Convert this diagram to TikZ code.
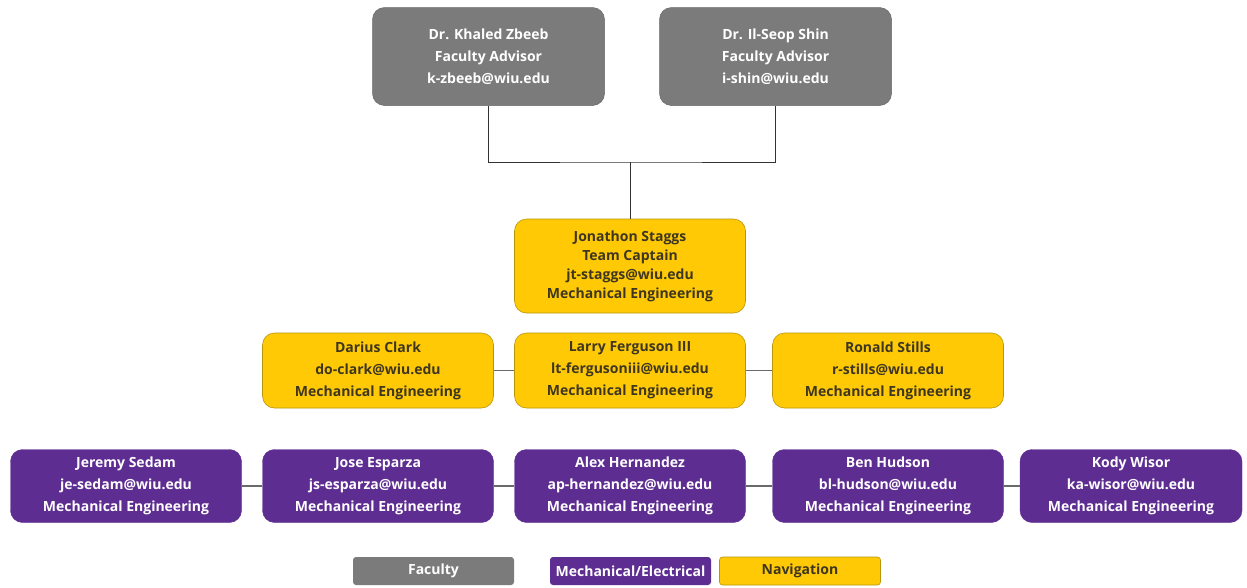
\documentclass[tikz,border=0pt]{standalone}
\usepackage{fontspec}
\setmainfont{Open Sans}
\definecolor{facgray}{HTML}{7B7B7B}
\definecolor{mepurple}{HTML}{5E2D91}
\definecolor{navyellow}{HTML}{FFCA05}
\definecolor{navborder}{HTML}{B8960A}
\definecolor{navtext}{HTML}{3E3620}
\definecolor{toplink}{HTML}{333333}
\definecolor{rowlink}{HTML}{6A6A6A}
\tikzset{
  box/.style={rectangle, rounded corners=12pt, align=center, inner sep=0pt,
    font=\bfseries\fontsize{14}{22}\selectfont},
  fac/.style={box, fill=facgray, draw=facgray!85!black, line width=0.5pt, text=white,
    minimum width=232, minimum height=98},
  nav/.style={box, fill=navyellow, draw=navborder, line width=0.6pt, text=navtext,
    minimum width=231, minimum height=75},
  mech/.style={box, fill=mepurple, draw=mepurple, text=white,
    minimum width=231, minimum height=73},
  legendbox/.style={rectangle, rounded corners=3pt, inner sep=0pt,
    font=\bfseries\fontsize{14}{16}\selectfont, minimum width=161, minimum height=28},
  toplinkstyle/.style={draw=toplink, line width=0.9pt},
  rowlinkstyle/.style={draw=rowlink, line width=1.2pt}
}
\begin{document}
\begin{tikzpicture}[x=1pt,y=-1pt]
\useasboundingbox[fill=white] (0,0) rectangle (1247,587);
% faculty
\node[fac] (khaled) at (488.5,56.5) {Dr. Khaled Zbeeb\\Faculty Advisor\\k-zbeeb@wiu.edu};
\node[fac] (shin) at (775.5,56.5) {Dr. Il-Seop Shin\\Faculty Advisor\\i-shin@wiu.edu};
% captain
\node[nav, minimum height=94, font=\bfseries\fontsize{14}{19}\selectfont] (captain) at (630,266)
  {Jonathon Staggs\\Team Captain\\jt-staggs@wiu.edu\\Mechanical Engineering};
% row 2
\node[nav] (darius) at (378,370.5) {Darius Clark\\do-clark@wiu.edu\\Mechanical Engineering};
\node[nav] (larry) at (630,370.5) {Larry Ferguson III\\lt-fergusoniii@wiu.edu\\Mechanical Engineering};
\node[nav] (ronald) at (888,370.5) {Ronald Stills\\r-stills@wiu.edu\\Mechanical Engineering};
% row 3
\node[mech] (jeremy) at (126,486) {Jeremy Sedam\\je-sedam@wiu.edu\\Mechanical Engineering};
\node[mech] (jose) at (378,486) {Jose Esparza\\js-esparza@wiu.edu\\Mechanical Engineering};
\node[mech] (alex) at (630,486) {Alex Hernandez\\ap-hernandez@wiu.edu\\Mechanical Engineering};
\node[mech] (ben) at (888,486) {Ben Hudson\\bl-hudson@wiu.edu\\Mechanical Engineering};
\node[mech, minimum width=222] (kody) at (1131,486) {Kody Wisor\\ka-wisor@wiu.edu\\Mechanical Engineering};
% legend
\node[legendbox, fill=facgray, text=white] (lfac) at (433.5,571) {Faculty};
\node[legendbox, fill=mepurple, text=white] (lmech) at (630.5,571) {Mechanical/Electrical};
\node[legendbox, fill=navyellow, draw=navborder, line width=0.6pt, text=navtext] (lnav) at (800,571) {Navigation};
% connectors
\coordinate (join) at (630,162);
\draw[toplinkstyle] (khaled.south) |- (join) -| (shin.south);
\draw[toplinkstyle] (join) -- (captain.north);
\draw[rowlinkstyle] (darius) -- (larry);
\draw[rowlinkstyle] (larry) -- (ronald);
\draw[rowlinkstyle] (jeremy) -- (jose);
\draw[rowlinkstyle] (jose) -- (alex);
\draw[rowlinkstyle] (alex) -- (ben);
\draw[rowlinkstyle] (ben) -- (kody);
\end{tikzpicture}
\end{document}
